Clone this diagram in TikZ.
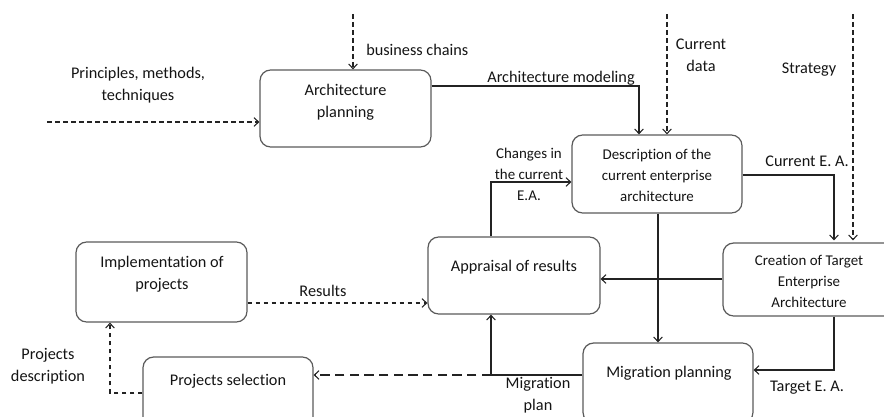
\documentclass[tikz,border=0pt]{standalone}
\usepackage{fontspec}
\setmainfont[Ligatures=NoCommon]{Carlito}
\usetikzlibrary{arrows.meta}
\definecolor{boxc}{RGB}{90,90,90}
\definecolor{linec}{RGB}{35,35,35}
\definecolor{txtc}{RGB}{20,20,20}
\tikzset{
  box/.style={draw=boxc, line width=0.9pt, rounded corners=8pt, inner sep=0pt},
  txt/.style={text=txtc, align=center, inner sep=0pt, font=\fontsize{12.2pt}{16.8pt}\selectfont},
  stxt/.style={text=txtc, align=center, inner sep=0pt, font=\fontsize{11.2pt}{15.8pt}\selectfont},
  conn/.style={draw=linec, line width=0.8pt, -{Straight Barb[length=3.5pt,width=6.5pt]}},
  plain/.style={draw=linec, line width=0.8pt},
  dconn/.style={conn, dash pattern=on 3.5pt off 2.5pt},
  dplain/.style={plain, dash pattern=on 3.5pt off 2.5pt},
}
\begin{document}
\begin{tikzpicture}[x=0.75pt,y=-0.75pt]
\useasboundingbox (0,0) rectangle (884,417);
\clip (0,0) rectangle (884,417);

% boxes
\node[box, minimum width=171*0.75pt, minimum height=77*0.75pt] (ap) at (345.5,108.5) {};
\node[box, minimum width=170*0.75pt, minimum height=78*0.75pt] (de) at (657,174) {};
\node[box, minimum width=172*0.75pt, minimum height=77*0.75pt] (ar) at (514,275.5) {};
\node[box, minimum width=172*0.75pt, minimum height=73*0.75pt] (cr) at (809,279.5) {};
\node[box, minimum width=171*0.75pt, minimum height=80*0.75pt] (im) at (161.5,282) {};
\node[box, minimum width=170*0.75pt, minimum height=78*0.75pt] (ps) at (228,396) {};
\node[box, minimum width=170*0.75pt, minimum height=80*0.75pt] (mp) at (668,383) {};

% box texts
\node[txt] (apt) at (345.5,102) {Architecture\\planning};
\node[stxt] (det) at (657,175) {Description of the\\current enterprise\\architecture};
\node[txt] (art) at (514,267) {Appraisal of results};
\node[stxt] (crt) at (809,281) {Creation of Target\\Enterprise\\Architecture};
\node[txt] (imt) at (162,274) {Implementation of\\projects};
\node[txt] (pst) at (228,381) {Projects selection};
\node[txt] (mpt) at (669,373) {Migration planning};

% free ends
\coordinate (bc) at (353,14);
\coordinate (pm) at (47,122);
\coordinate (cd) at (667,14);
\coordinate (st) at (853,14);
\coordinate (am) at (639,86);
\coordinate (ce) at (834,175);
\coordinate (ch) at (491,182);
\coordinate (ca) at (0,279);
\coordinate (te) at (834,370);
\coordinate (mj) at (491,375);
\coordinate (rs) at (0,303);
\coordinate (pd) at (110,393);

% connectors
\draw[dconn] (bc) -- (bc |- ap.north);
\draw[dconn] (pm) -- (pm -| ap.west);
\draw[conn] (ap.east |- am) -| (am |- de.north);
\draw[dconn] (cd) -- (cd |- de.north);
\draw[dconn] (st) -- ([yshift=1.5pt]st |- cr.north);
\draw[conn] (de.east |- ce) -| ([yshift=1.5pt]ce |- cr.north);
\draw[conn] (ch |- ar.north) |- (de.west |- ch);
\draw[conn] (cr.west |- ca) -- (ar.east |- ca);
\draw[conn] (de.south -| 658,0) -- (mp.north -| 658,0);
\draw[conn] (te |- cr.south) |- (mp.east |- te);
\draw[plain] (mp.west |- mj) -- (mj);
\draw[conn] (mj) -- (mj |- ar.south);
\draw[dconn, dash pattern=on 7pt off 4pt] (mj) -- (ps.east |- mj);
\draw[dconn] (im.east |- rs) -- (ar.west |- rs);
\draw[dconn] (ps.west |- pd) -| (pd |- im.south);

% connector labels
\node[txt, anchor=west] (lbc) at (366,50) {business chains};
\node[txt] (lpm) at (138,85) {Principles, methods,\\techniques};
\node[txt] (lam) at (561,78) {Architecture modeling};
\node[txt] (lcd) at (701,55) {Current\\data};
\node[txt] (lst) at (809,70) {Strategy};
\node[txt] (lce) at (807,161) {Current E. A.};
\node[stxt] (lch) at (529,174) {Changes in\\the current\\E.A.};
\node[txt] (lte) at (807,388) {Target E. A.};
\node[txt] (lmp) at (538,395) {Migration\\plan};
\node[txt] (lrs) at (323,291) {Results};
\node[txt] (lpd) at (48,366) {Projects\\description};
\end{tikzpicture}
\end{document}
